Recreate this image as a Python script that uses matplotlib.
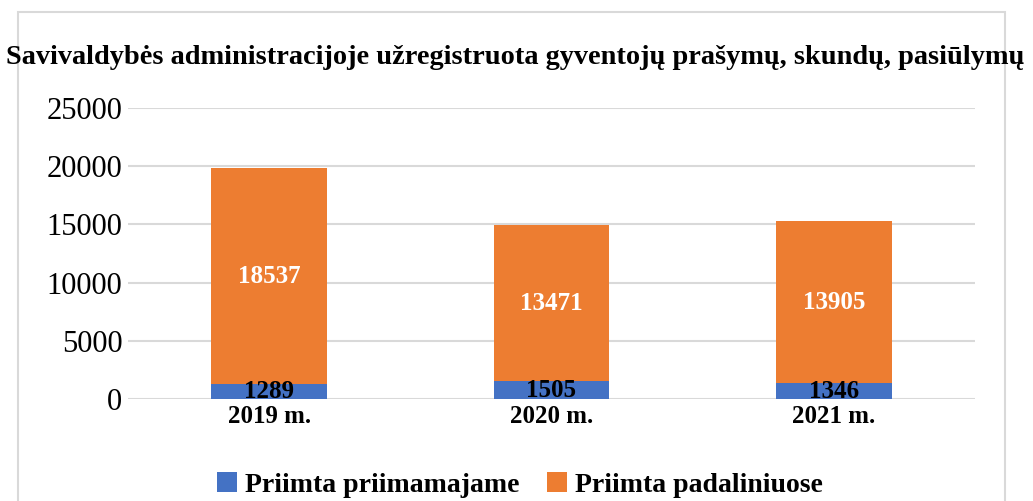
import matplotlib.pyplot as plt
from matplotlib.patches import Rectangle
import numpy as np

years = ["2019 m.", "2020 m.", "2021 m."]
priimamajame = [1289, 1505, 1346]
padaliniuose = [18537, 13471, 13905]

title = "Savivaldybės administracijoje užregistruota gyventojų prašymų, skundų, pasiūlymų"
series_names = ["Priimta priimamajame", "Priimta padaliniuose"]

blue = "#4472C4"
orange = "#ED7D31"

plt.rcParams["font.family"] = ["Liberation Serif", "DejaVu Serif"]

W, H = 1033, 501
fig = plt.figure(figsize=(W / 100, H / 100), dpi=100)

# outer chart border
fig.patches.append(
    Rectangle((18 / W, -0.05), (1005 - 18) / W, 1.05 - 12 / H,
              transform=fig.transFigure, fill=False, edgecolor="#d9d9d9", linewidth=1.5)
)

ax = fig.add_axes([128 / W, 1 - 399 / H, (975 - 128) / W, (399 - 108) / H])

x = np.arange(len(years))
b1 = ax.bar(x, priimamajame, width=0.41, color=blue, label=series_names[0], zorder=3)
b2 = ax.bar(x, padaliniuose, width=0.41, bottom=priimamajame, color=orange,
            label=series_names[1], zorder=3)

for rect, v in zip(b1, priimamajame):
    ax.text(rect.get_x() + rect.get_width() / 2, v / 2, str(v), ha="center",
            va="center", fontsize=18, fontweight="bold", color="black", zorder=4)
for rect, base, v in zip(b2, priimamajame, padaliniuose):
    ax.text(rect.get_x() + rect.get_width() / 2, base + v / 2, str(v), ha="center",
            va="center", fontsize=18, fontweight="bold", color="white", zorder=4)

ax.set_xlim(-0.5, len(years) - 0.5)
ax.set_ylim(0, 25000)
ax.set_yticks(range(0, 25001, 5000))
ax.tick_params(axis="y", labelsize=22, length=0, pad=4)
ax.tick_params(axis="x", length=0, pad=4)
ax.set_xticks(x)
ax.set_xticklabels(years, fontsize=18, fontweight="bold")
ax.grid(axis="y", color="#d9d9d9", linewidth=1.5, zorder=0)
for s in ax.spines.values():
    s.set_visible(False)

fig.text(6 / W, 1 - 58 / H, title, ha="left", va="center", fontsize=20.4, fontweight="bold")

fig.legend(loc="center", bbox_to_anchor=(520 / W, 1 - 485 / H), ncol=2, frameon=False,
           prop={"size": 20, "weight": "bold"}, handlelength=0.7, handleheight=0.7,
           handletextpad=0.3, columnspacing=1.0)

fig.savefig("out.png", dpi=100)
